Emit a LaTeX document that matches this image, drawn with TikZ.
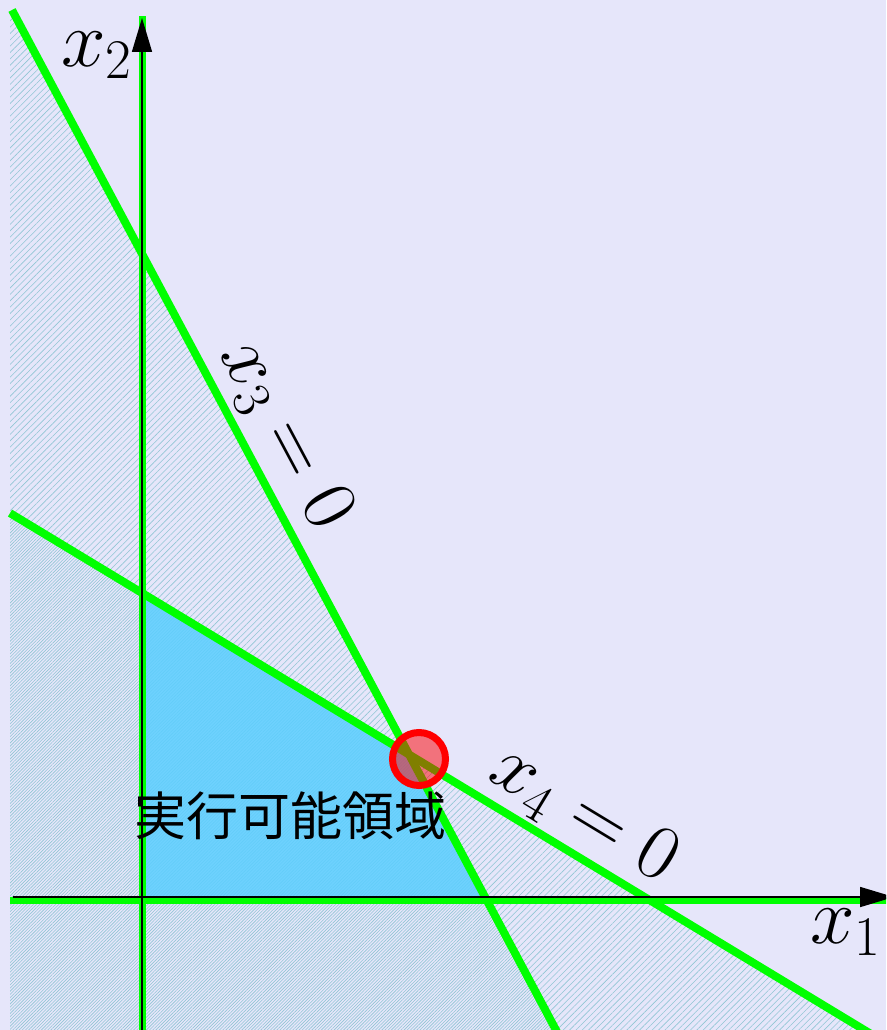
\RequirePackage{fix-cm}
\documentclass[tikz,border=0pt]{standalone}
\usepackage{fontspec}
\newfontfamily\cjk{Noto Sans CJK JP}
\usetikzlibrary{arrows.meta,patterns.meta}
\definecolor{bg}{RGB}{230,230,250}
\definecolor{feas}{RGB}{90,206,255}
\definecolor{hatch}{RGB}{145,198,212}
\definecolor{cgreen}{RGB}{0,255,0}
\begin{document}
\begin{tikzpicture}[x=1pt,y=-1pt,
  greenline/.style={draw=cgreen,line width=8pt},
  axgreen/.style={draw=cgreen,line width=7pt},
  axisline/.style={draw=black,line width=1.6pt},
  axlabel/.style={inner sep=0pt,font=\fontsize{80}{92}\selectfont},
  linelabel/.style={inner sep=0pt,font=\fontsize{78}{90}\selectfont},
  hatchA/.style={pattern={Lines[angle=45,distance=4.5pt,line width=0.6pt]},pattern color=hatch},
  hatchB/.style={pattern={Lines[angle=45,distance=4.5pt,line width=0.6pt,xshift=3.18pt]},pattern color=hatch},
]
\useasboundingbox (0,0) rectangle (886,1030);
\fill[bg] (0,0) rectangle (886,1030);
\clip (0,0) rectangle (886,1030);
% key points
\coordinate (T3) at (12,10);
\coordinate (B3) at (561.3,1040);
\coordinate (T3e) at (-4,-20);
\coordinate (B3e) at (566.7,1050);
\coordinate (L4) at (10,513.1);
\coordinate (R4) at (890,1045.5);
\coordinate (L4e) at (-20,495);
\coordinate (R4e) at (900,1051.6);
\coordinate (V) at (409.1,754.6);
\coordinate (O) at (142,898);
\coordinate (A2) at (142,593);
\coordinate (A1) at (485.6,898);
% hatching
\begin{scope}
  \clip (10,18) rectangle (900,1040);
  \fill[hatchA] (T3e) -- (B3e) -- (-20,1050) -- (-20,-20) -- cycle;
  \fill[hatchB] (L4e) -- (R4e) -- (900,1060) -- (-20,1060) -- cycle;
\end{scope}
% feasible region (slightly translucent so the hatching shows faintly)
\fill[feas,fill opacity=0.85] (A2) -- (V) -- (A1) -- (O) -- cycle;
\draw[line width=1pt] (A2) -- (V) -- (A1) -- (O) -- cycle;
% green constraint lines
\coordinate (G2t) at (142,16);
\coordinate (G2b) at (142,1040);
\coordinate (G1l) at (10,900);
\coordinate (G1r) at (900,900);
\draw[greenline] (T3) -- (B3);
\draw[greenline] (L4) -- (R4);
\draw[axgreen] (G2b) -- (G2t);
\draw[axgreen] (G1l) -- (G1r);
% axes
\coordinate (X2b) at (142,1040);
\coordinate (X2t) at (142,18);
\coordinate (X1l) at (13,897);
\coordinate (X1r) at (894,897);
\draw[axisline,-{Triangle[length=34pt,width=20pt]}] (X2b) -- (X2t);
\draw[axisline,-{Triangle[length=34pt,width=20pt]}] (X1l) -- (X1r);
% optimum
\node[draw=red,line width=7pt,fill=red,fill opacity=0.5,draw opacity=1,circle,minimum size=53pt,inner sep=0pt] (opt) at (419,759) {};
% labels
\node[axlabel,anchor=base west] (lx2) at (61,67) {$x_2$};
\node[axlabel,anchor=base west] (lx1) at (810,943) {$x_1$};
\node[linelabel,rotate=-61.9] (l3) at (285,435) {$x_3 = 0$};
\node[linelabel,rotate=-31.2] (l4) at (584,815) {$x_4 = 0$};
\node[font=\cjk\fontsize{52}{60}\selectfont,inner sep=0pt] (fr) at (290,816) {実行可能領域};
\end{tikzpicture}
\end{document}
